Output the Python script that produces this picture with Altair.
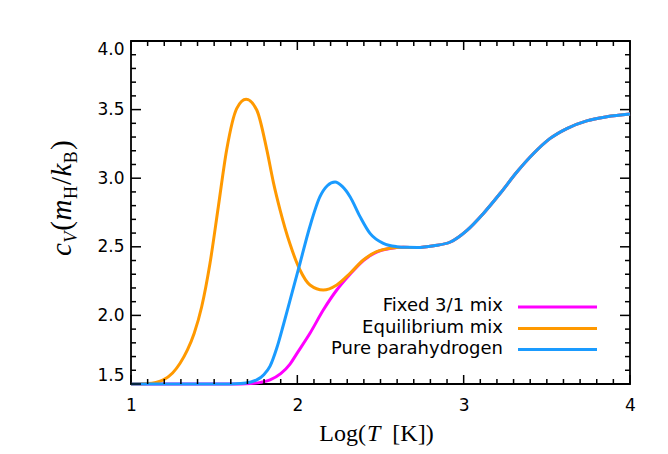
import altair as alt
import pandas as pd

# ---------------- data ----------------
# shared high-temperature branch (all three curves coincide here)
high_logT = [2.72, 2.82, 2.92, 3.02, 3.12, 3.22, 3.32, 3.42, 3.52, 3.62, 3.74, 3.86, 4.0]
high_cv = [2.495, 2.508, 2.535, 2.62, 2.745, 2.89, 3.045, 3.18, 3.29, 3.362, 3.418, 3.448, 3.468]

para_logT = [1.0, 1.60, 1.66, 1.72, 1.756, 1.80, 1.836, 1.876, 1.916, 1.956, 2.016, 2.076,
             2.136, 2.18, 2.227, 2.27, 2.317, 2.377, 2.437, 2.517, 2.598, 2.66]
para_cv = [1.5, 1.5, 1.503, 1.515, 1.53, 1.57, 1.63, 1.76, 1.93, 2.11, 2.38, 2.65,
           2.865, 2.945, 2.972, 2.94, 2.865, 2.72, 2.598, 2.525, 2.501, 2.496]

equi_logT = [1.0, 1.10, 1.15, 1.194, 1.25, 1.295, 1.34, 1.38, 1.425, 1.475, 1.525, 1.575,
             1.636, 1.692, 1.756, 1.816, 1.856, 1.896, 1.956, 2.016, 2.076, 2.156, 2.237,
             2.317, 2.397, 2.477, 2.557, 2.637]
equi_cv = [1.5, 1.503, 1.512, 1.53, 1.58, 1.651, 1.75, 1.87, 2.063, 2.38, 2.792, 3.206,
           3.509, 3.575, 3.497, 3.21, 2.97, 2.77, 2.52, 2.331, 2.222, 2.185, 2.222,
           2.307, 2.404, 2.464, 2.489, 2.496]

fixed_logT = [1.0, 1.66, 1.72, 1.78, 1.836, 1.90, 1.956, 1.996, 2.076, 2.156, 2.237, 2.317,
              2.397, 2.477, 2.557, 2.637]
fixed_cv = [1.5, 1.5, 1.503, 1.512, 1.53, 1.575, 1.645, 1.72, 1.87, 2.039, 2.185, 2.30,
            2.40, 2.462, 2.488, 2.496]

series_names = ["Fixed 3/1 mix", "Equilibrium mix", "Pure parahydrogen"]
series_colors = ["#FF00FF", "#FF9900", "#1A9BFF"]

x_major = [1, 2, 3, 4]
y_major = [1.5, 2.0, 2.5, 3.0, 3.5, 4.0]
x_minor = [round(1 + 0.1 * i, 1) for i in range(31) if i % 10]
y_minor = [round(1.5 + 0.1 * i, 1) for i in range(26) if i % 5]

# ---------------- layout ----------------
W, H = 499, 343
LABEL_FONT = "DejaVu Sans"
SERIF = "Liberation Serif"

xs = alt.Scale(domain=[1, 4], nice=False, zero=False)
ys = alt.Scale(domain=[1.5, 4.0], nice=False, zero=False)
x_axis = alt.Axis(values=x_major, format="d", ticks=False, domain=False, grid=False,
                  title=None, labelFont=LABEL_FONT, labelFontSize=17, labelPadding=13,
                  labelColor="black", labelFlush=False)
y_axis = alt.Axis(values=y_major, format=".1f", ticks=False, domain=False, grid=False,
                  title=None, labelFont=LABEL_FONT, labelFontSize=17, labelPadding=7,
                  labelColor="black", labelFlush=True)


def curve(xv, yv, color):
    df = pd.DataFrame({"logT": xv + high_logT, "cv": yv + high_cv})
    return alt.Chart(df).mark_line(color=color, strokeWidth=3, interpolate="monotone").encode(
        x=alt.X("logT:Q", scale=xs, axis=x_axis),
        y=alt.Y("cv:Q", scale=ys, axis=y_axis),
    )


layers = [
    curve(fixed_logT, fixed_cv, series_colors[0]),
    curve(equi_logT, equi_cv, series_colors[1]),
    curve(para_logT, para_cv, series_colors[2]),
]


# ---------------- inward ticks on all four sides ----------------
def xticks(vals, length):
    df = pd.DataFrame({"logT": vals})
    enc_x = alt.X("logT:Q", scale=xs, axis=x_axis)
    bottom = alt.Chart(df).mark_rule(color="black", strokeWidth=1.5).encode(
        x=enc_x, y=alt.value(H), y2=alt.value(H - length))
    top = alt.Chart(df).mark_rule(color="black", strokeWidth=1.5).encode(
        x=enc_x, y=alt.value(0), y2=alt.value(length))
    return [bottom, top]


def yticks(vals, length):
    df = pd.DataFrame({"cv": vals})
    enc_y = alt.Y("cv:Q", scale=ys, axis=y_axis)
    left = alt.Chart(df).mark_rule(color="black", strokeWidth=1.5).encode(
        y=enc_y, x=alt.value(0), x2=alt.value(length))
    right = alt.Chart(df).mark_rule(color="black", strokeWidth=1.5).encode(
        y=enc_y, x=alt.value(W - length), x2=alt.value(W))
    return [left, right]


layers += xticks(x_major, 9) + xticks(x_minor, 5)
layers += yticks(y_major, 10) + yticks(y_minor, 5)

# ---------------- legend (label left, line sample right) ----------------
leg_text_x = 372
leg_line = (387, 466)
leg_rows = [265, 286.5, 307.5]
for name, color, yy in zip(series_names, series_colors, leg_rows):
    layers.append(
        alt.Chart(pd.DataFrame({"t": [name]})).mark_text(
            align="right", baseline="middle", font=LABEL_FONT, fontSize=18, color="black"
        ).encode(text="t:N", x=alt.value(leg_text_x), y=alt.value(yy))
    )
    layers.append(
        alt.Chart(pd.DataFrame({"t": [name]})).mark_rule(color=color, strokeWidth=3).encode(
            x=alt.value(leg_line[0]), x2=alt.value(leg_line[1]), y=alt.value(yy + 1)
        )
    )


def text_piece(txt, x, y, size, italic=False, angle=0, align="left"):
    mk = dict(align=align, baseline="alphabetic", font=SERIF, fontSize=size, color="black")
    if italic:
        mk["fontStyle"] = "italic"
    if angle:
        mk["angle"] = angle
    return alt.Chart(pd.DataFrame({"t": [txt]})).mark_text(**mk).encode(
        text="t:N", x=alt.value(x), y=alt.value(y))


# ---------------- x title: Log(T [K]) ----------------
xt_size = 24
xt_base = 400
xt_mid = 236  # x position (plot coords) where italic T starts
layers.append(text_piece("Log(", xt_mid - 1, xt_base, xt_size, align="right"))
layers.append(text_piece("T", xt_mid, xt_base, xt_size, italic=True))
layers.append(text_piece("[K])", xt_mid + 0.556 * xt_size + 12, xt_base, xt_size))

# ---------------- y title: c_V(m_H/k_B), rotated ----------------
yt_size = 29
sub_size = 18
base_x = -60
sub_dx = 6
pieces = [  # text, width (em), sub?, italic?
    ("c", 0.444, False, True),
    ("V", 0.611, True, True),
    ("(", 0.333, False, False),
    ("m", 0.722, False, True),
    ("H", 0.722, True, False),
    ("/", 0.278, False, False),
    ("k", 0.444, False, True),
    ("B", 0.667, True, False),
    (")", 0.333, False, False),
]
total = sum(w * (sub_size if s else yt_size) for _, w, s, _ in pieces)
pos = 160 + total / 2
for txt, w, sub, it in pieces:
    size = sub_size if sub else yt_size
    layers.append(text_piece(txt, base_x + (sub_dx if sub else 0), pos, size, italic=it, angle=270))
    pos -= w * size + (1 if sub else 0.5)

chart = alt.layer(*layers).properties(
    width=W, height=H,
    autosize=alt.AutoSizeParams(type="none"),
    padding={"left": 123, "top": 33, "right": 16, "bottom": 62},
    background="white",
).configure_view(stroke="black", strokeWidth=1.8)

chart.save("out.html", embed_options={"renderer": "svg", "actions": False})
